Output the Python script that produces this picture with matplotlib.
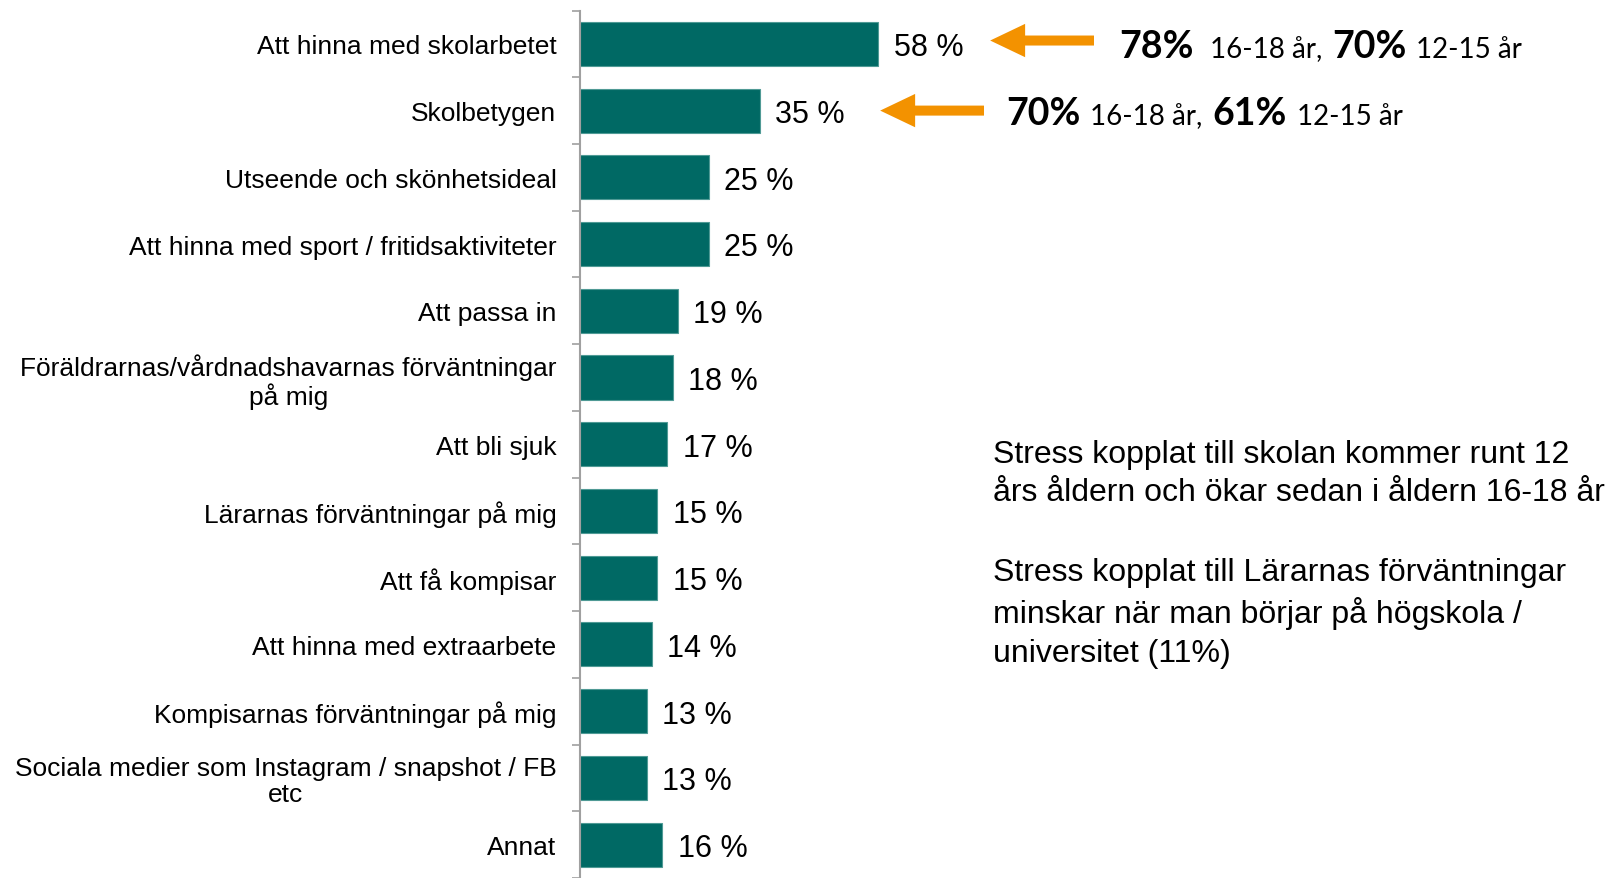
import matplotlib.pyplot as plt
from matplotlib.patches import FancyArrow

plt.rcParams['font.family'] = ['Liberation Sans', 'DejaVu Sans']

categories = [
    "Att hinna med skolarbetet",
    "Skolbetygen",
    "Utseende och skönhetsideal",
    "Att hinna med sport / fritidsaktiviteter",
    "Att passa in",
    "Föräldrarnas/vårdnadshavarnas förväntningar\npå mig",
    "Att bli sjuk",
    "Lärarnas förväntningar på mig",
    "Att få kompisar",
    "Att hinna med extraarbete",
    "Kompisarnas förväntningar på mig",
    "Sociala medier som Instagram / snapshot / FB\netc",
    "Annat",
]
values = [58, 35, 25, 25, 19, 18, 17, 15, 15, 14, 13, 13, 16]

# callouts on the first two bars: (bar index, [(text, bold), ...])
callouts = [
    (0, [("78%", True), ("16-18 år,", False), ("70%", True), ("12-15 år", False)]),
    (1, [("70%", True), ("16-18 år,", False), ("61%", True), ("12-15 år", False)]),
]

notes = [
    "Stress kopplat till skolan kommer runt 12\nårs åldern och ökar sedan i åldern 16-18 år",
    "Stress kopplat till Lärarnas förväntningar\nminskar när man börjar på högskola /\nuniversitet (11%)",
]

teal = "#006964"
orange = "#F39200"

fig = plt.figure(figsize=(16.08, 8.79), dpi=100)
ax = fig.add_axes([580 / 1608, 0, 1 - 580 / 1608, 1 - 11.5 / 879])

ypos = list(range(len(categories)))
ax.barh(ypos, values, height=0.66, color=teal, edgecolor="#4f9a95", linewidth=0.8)
ax.set_xlim(0, 200)
ax.set_ylim(len(categories) - 0.53, -0.5)

for y, v in zip(ypos, values):
    ax.text(v + 3, y + 0.05, f"{v} %", fontsize=22, va="center", ha="left")

ax.set_yticks(ypos)
ax.set_yticklabels(categories, fontsize=19, multialignment="center", linespacing=1.1)
ax.tick_params(axis="y", which="major", length=0, pad=17)
ax.set_yticks([y - 0.5 for y in ypos] + [len(categories) - 0.5], minor=True)
ax.tick_params(axis="y", which="minor", length=6, width=1.2, color="#a0a0a0")
ax.set_xticks([])
for s in ["top", "right", "bottom"]:
    ax.spines[s].set_visible(False)
ax.spines["left"].set_color("#a0a0a0")
ax.spines["left"].set_linewidth(1.5)

# orange arrows pointing at the values, then the age breakdown
for (idx, parts), gap0, dy in zip(callouts, [21.8, 23.4], [-0.05, 0.0]):
    tip = values[idx] + gap0
    tail = tip + 20.2
    ax.add_patch(FancyArrow(tail, idx + dy, tip - tail, 0, width=0.15,
                            head_width=0.5, head_length=6.8,
                            length_includes_head=True, color=orange, lw=0))
    base = idx + 0.2
    prev = ax.annotate(parts[0][0], xy=(tail, base), xytext=(18 if idx == 0 else 16, 0),
                       textcoords="offset points", fontsize=27, fontweight="bold",
                       family="Lato", va="baseline", ha="left")
    for k, (txt, bold) in enumerate(parts[1:]):
        gap = 12 if (idx == 0 and k == 0) else 7
        prev = ax.annotate(txt, xy=(1, base), xycoords=(prev, "data"),
                           xytext=(gap, 0), textcoords="offset points",
                           fontsize=27 if bold else 20,
                           fontweight="bold" if bold else "normal",
                           family="Lato", va="baseline", ha="left")

fig.text(993 / 1608, 1 - 440 / 879, notes[0], fontsize=23, va="top", ha="left",
         linespacing=1.36)
fig.text(993 / 1608, 1 - 558 / 879, notes[1], fontsize=23, va="top", ha="left",
         linespacing=1.36)

fig.savefig("out.png", dpi=100)
